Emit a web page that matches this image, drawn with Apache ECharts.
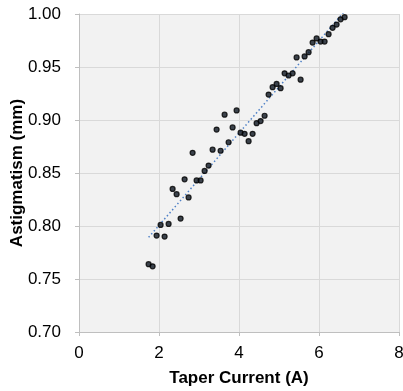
<!DOCTYPE html>
<html>
<head>
<meta charset="utf-8">
<script src="https://cdn.jsdelivr.net/npm/echarts@6/dist/echarts.min.js"></script>
<style>
  html, body { margin: 0; padding: 0; background: #fff; }
  #chart { width: 403px; height: 391px; }
</style>
</head>
<body>
<div id="chart"></div>
<script>
// Taper current (A) for each measurement
const current = [1.74, 1.84, 1.94, 2.04, 2.14, 2.24, 2.34, 2.44, 2.54, 2.64,
                 2.74, 2.84, 2.94, 3.04, 3.14, 3.24, 3.34, 3.44, 3.54, 3.64,
                 3.74, 3.84, 3.94, 4.04, 4.14, 4.24, 4.34, 4.44, 4.54, 4.64,
                 4.74, 4.84, 4.94, 5.04, 5.14, 5.24, 5.34, 5.44, 5.54, 5.64,
                 5.74, 5.84, 5.94, 6.04, 6.14, 6.24, 6.34, 6.44, 6.54, 6.64];
// Measured astigmatism (mm)
const astigmatism = [0.764, 0.762, 0.791, 0.801, 0.790, 0.802, 0.835, 0.830, 0.807, 0.844,
                     0.827, 0.869, 0.843, 0.843, 0.852, 0.857, 0.872, 0.891, 0.871, 0.905,
                     0.879, 0.893, 0.909, 0.888, 0.887, 0.880, 0.887, 0.897, 0.899, 0.904,
                     0.924, 0.931, 0.934, 0.930, 0.944, 0.942, 0.944, 0.959, 0.938, 0.960,
                     0.964, 0.973, 0.977, 0.974, 0.974, 0.981, 0.987, 0.990, 0.995, 0.997];
const xTicks = [0, 2, 4, 6, 8];
const yTicks = [0.70, 0.75, 0.80, 0.85, 0.90, 0.95, 1.00];

const points = current.map((x, i) => [x, astigmatism[i]]);

// Least-squares linear trend over the measurements
const n = current.length;
const mx = current.reduce((a, b) => a + b, 0) / n;
const my = astigmatism.reduce((a, b) => a + b, 0) / n;
let sxy = 0, sxx = 0;
for (let i = 0; i < n; i++) {
  sxy += (current[i] - mx) * (astigmatism[i] - my);
  sxx += (current[i] - mx) * (current[i] - mx);
}
const slope = sxy / sxx;
const intercept = my - slope * mx;
const xMin = Math.min(...current), xMax = Math.max(...current);
const trend = [[xMin, intercept + slope * xMin], [xMax, intercept + slope * xMax]];

const font = '"Liberation Sans", Arial, sans-serif';
const chart = echarts.init(document.getElementById('chart'), null, { renderer: 'canvas' });
chart.setOption({
  animation: false,
  backgroundColor: '#ffffff',
  grid: {
    left: 79, right: 4, top: 14, bottom: 59,
    containLabel: false, outerBoundsMode: 'none',
    show: true, backgroundColor: '#f2f2f2', borderWidth: 0
  },
  xAxis: {
    type: 'value',
    min: xTicks[0], max: xTicks[xTicks.length - 1], interval: 2,
    name: 'Taper Current (A)',
    nameLocation: 'middle', nameGap: 38, nameMoveOverlap: false,
    nameTextStyle: { fontFamily: font, fontSize: 17, fontWeight: 'bold', color: '#000' },
    axisLine: { show: true, onZero: false, lineStyle: { color: '#bfbfbf', width: 1 } },
    axisTick: { show: true, length: 4, lineStyle: { color: '#bfbfbf' } },
    axisLabel: { fontFamily: font, fontSize: 17, color: '#000', margin: 13 },
    splitLine: { show: true, lineStyle: { color: '#d9d9d9', width: 1 } }
  },
  yAxis: {
    type: 'value',
    min: yTicks[0], max: yTicks[yTicks.length - 1], interval: 0.05,
    name: 'Astigmatism (mm)',
    nameLocation: 'middle', nameGap: 53, nameRotate: 90, nameMoveOverlap: false,
    nameTextStyle: { fontFamily: font, fontSize: 17, fontWeight: 'bold', color: '#000' },
    axisLine: { show: true, lineStyle: { color: '#bfbfbf', width: 1 } },
    axisTick: { show: true, length: 4, lineStyle: { color: '#bfbfbf' } },
    axisLabel: {
      fontFamily: font, fontSize: 17, color: '#000', margin: 18,
      formatter: v => v.toFixed(2)
    },
    splitLine: { show: true, lineStyle: { color: '#d9d9d9', width: 1 } }
  },
  series: [
    {
      type: 'line',
      data: trend,
      symbol: 'none',
      lineStyle: { color: '#4f81c7', width: 1.5, type: [1.5, 2.5] },
      z: 2
    },
    {
      type: 'scatter',
      data: points,
      symbol: 'circle',
      symbolSize: 5,
      itemStyle: { color: '#0d1520', borderColor: '#000', borderWidth: 1.2 },
      z: 3
    }
  ]
});
</script>
</body>
</html>
